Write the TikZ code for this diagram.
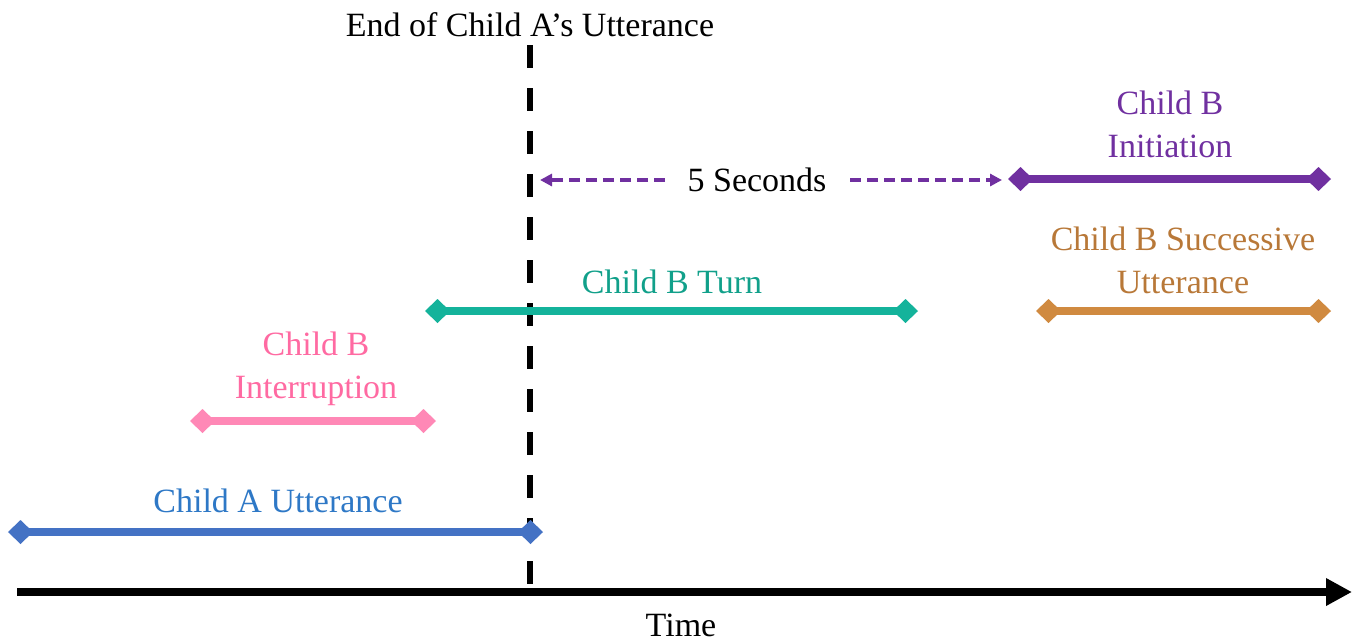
\documentclass[tikz,border=0pt]{standalone}
\usepackage{fontspec}
\setmainfont{Liberation Serif}
\usepackage{xcolor}
\usepackage{tikz}
\usetikzlibrary{arrows.meta, positioning, calc}
\definecolor{uttblue}{HTML}{4472C4}
\definecolor{uttbluetxt}{HTML}{2E78C6}
\definecolor{intpink}{HTML}{FF88B6}
\definecolor{intpinktxt}{HTML}{FF6AA2}
\definecolor{turnteal}{HTML}{14B39B}
\definecolor{turntealtxt}{HTML}{11A08A}
\definecolor{initpurple}{HTML}{7030A0}
\definecolor{succorange}{HTML}{D08A40}
\definecolor{succorangetxt}{HTML}{B87838}
\tikzset{
  lbl/.style={font=\fontsize{34}{43}\selectfont, align=center, anchor=base, inner sep=0pt, text=#1},
  lbl/.default=black,
  span/.style={{Diamond[length=25pt,width=24pt]}-{Diamond[length=25pt,width=24pt]}, line width=7.5pt, color=#1},
  gap/.style={-{Triangle[length=12pt,width=12pt]}, line width=3.5pt, color=initpurple, dash pattern=on 11pt off 6pt},
}
\begin{document}
\begin{tikzpicture}[x=1pt, y=-1pt]
  \useasboundingbox (0,0) rectangle (1356,641);

  % time axis
  \coordinate (t0) at (17,592);
  \coordinate (t1) at (1352,592);
  \draw[-{Triangle[length=26pt,width=26pt]}, line width=8pt] (t0) -- (t1);
  \node[lbl] (time) at (681,636) {Time};

  % end of child A
  \coordinate (endTop) at (530,45);
  \coordinate (endBot) at (530,588);
  \draw[line width=6pt, dash pattern=on 23pt off 20pt] (endTop) -- (endBot);
  \node[lbl] (endlbl) at (530,36) {End of Child A’s Utterance};

  % child A utterance
  \coordinate (aS) at (8,532);
  \coordinate (aE) at (543,532);
  \draw[span=uttblue] (aS) -- (aE);
  \node[lbl=uttbluetxt] (albl) at (278,512) {Child A Utterance};

  % interruption
  \coordinate (iS) at (190,421);
  \coordinate (iE) at (436,421);
  \draw[span=intpink] (iS) -- (iE);
  \node[lbl=intpinktxt] (ilbl) at (316,398) {Child B\\Interruption};

  % turn
  \coordinate (tS) at (425,311);
  \coordinate (tE) at (918,311);
  \draw[span=turnteal] (tS) -- (tE);
  \node[lbl=turntealtxt] (tlbl) at (672,293) {Child B Turn};

  % initiation
  \coordinate (nS) at (1008,179);
  \coordinate (nE) at (1331,179);
  \draw[span=initpurple] (nS) -- (nE);
  \node[lbl=initpurple] (nlbl) at (1170,157) {Child B\\Initiation};

  % successive utterance
  \coordinate (sS) at (1036,311);
  \coordinate (sE) at (1331,311);
  \draw[span=succorange] (sS) -- (sE);
  \node[lbl=succorangetxt] (slbl) at (1183,293) {Child B Successive\\Utterance};

  % 5 seconds window
  \node[lbl] (five) at (757,191) {5 Seconds};
  \coordinate (gL) at (540,180);
  \coordinate (gLs) at (665,180);
  \coordinate (gRs) at (850,180);
  \coordinate (gR) at (1002,180);
  \draw[gap] (gLs) -- (gL);
  \draw[gap] (gRs) -- (gR);
\end{tikzpicture}
\end{document}
